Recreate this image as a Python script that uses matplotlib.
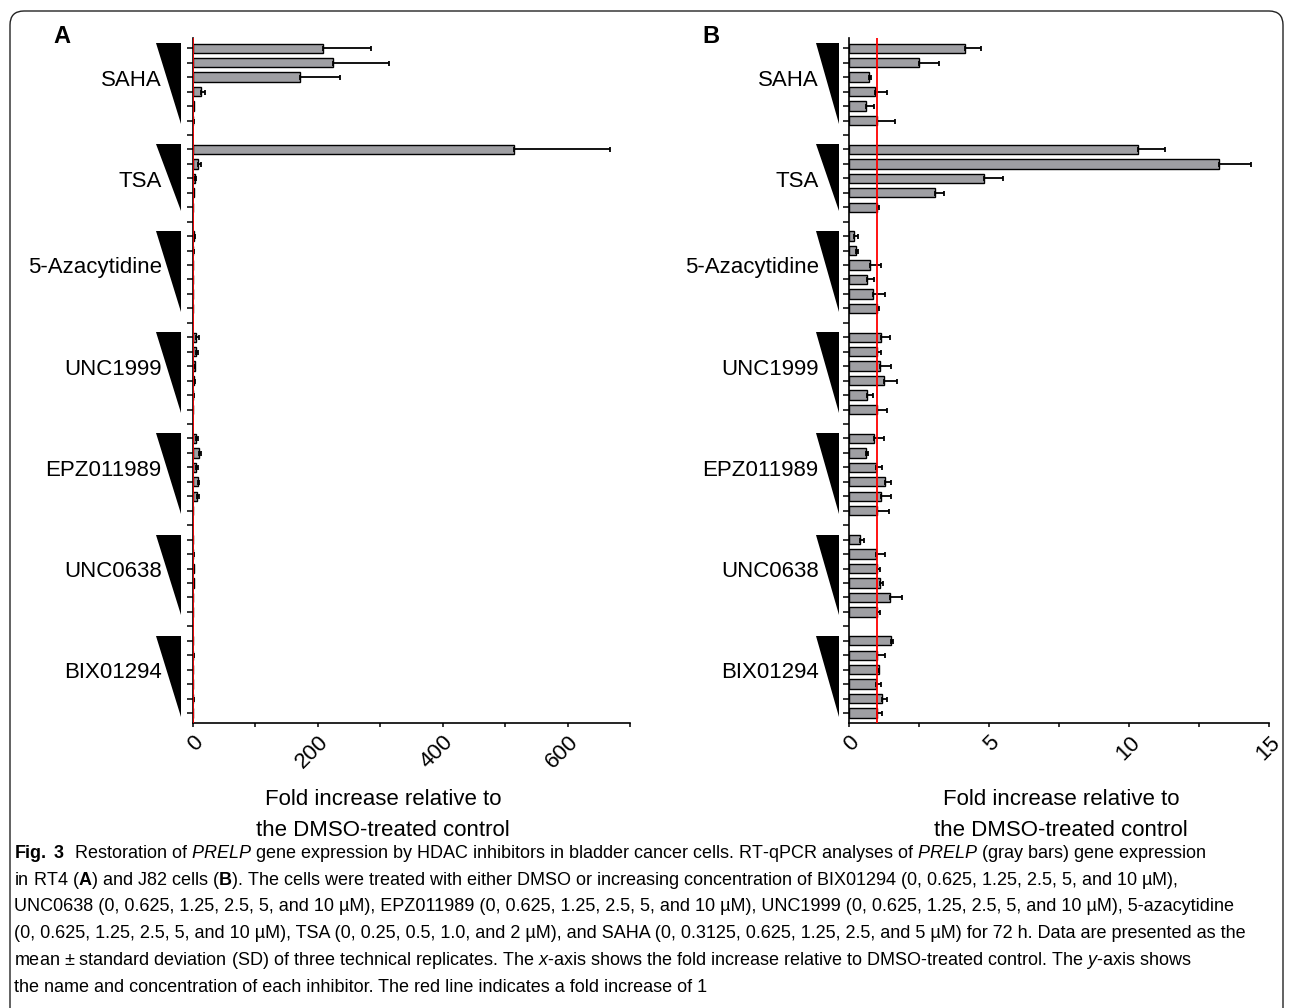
import matplotlib.pyplot as plt
import matplotlib.transforms as mtransforms
from matplotlib.patches import Polygon, FancyBboxPatch

plt.rcParams['font.family'] = ['Liberation Sans', 'DejaVu Sans']
plt.rcParams['mathtext.fontset'] = 'custom'
plt.rcParams['mathtext.rm'] = 'Liberation Sans'
plt.rcParams['mathtext.it'] = 'Liberation Sans:italic'
plt.rcParams['mathtext.bf'] = 'Liberation Sans:bold'

# inhibitors, top to bottom; bars inside a group go from highest dose to DMSO
groups = ["SAHA", "TSA", "5-Azacytidine", "UNC1999", "EPZ011989", "UNC0638", "BIX01294"]

# RT4 cells (panel A), fold increase and SD
rt4_mean = [
    [209, 225, 172, 13.8, 1.8, 1.0],
    [514, 9.0, 3.2, 1.5, 1.0],
    [2.5, 1.2, 1.0, 1.0, 1.0, 1.0],
    [5.8, 5.8, 3.0, 2.4, 1.2, 1.0],
    [5.8, 9.6, 5.8, 8.1, 6.4, 1.0],
    [1.0, 1.2, 2.0, 1.5, 1.0, 1.0],
    [1.0, 1.1, 1.0, 1.0, 1.1, 1.0],
]
rt4_sd = [
    [77, 90, 63, 5.9, 0.8, 0.3],
    [154, 3.8, 1.3, 0.5, 0.2],
    [0.8, 0.3, 0.2, 0.2, 0.2, 0.1],
    [3.8, 2.0, 1.2, 1.0, 0.3, 0.2],
    [3.2, 4.2, 3.2, 2.6, 3.6, 0.2],
    [0.2, 0.3, 0.6, 0.4, 0.2, 0.1],
    [0.1, 0.2, 0.1, 0.1, 0.2, 0.1],
]

# J82 cells (panel B)
j82_mean = [
    [4.13, 2.51, 0.73, 0.95, 0.63, 1.0],
    [10.31, 13.2, 4.82, 3.06, 1.0],
    [0.20, 0.26, 0.77, 0.65, 0.87, 1.0],
    [1.14, 1.02, 1.13, 1.27, 0.67, 1.0],
    [0.92, 0.62, 0.98, 1.31, 1.15, 1.0],
    [0.42, 0.98, 1.01, 1.13, 1.48, 1.0],
    [1.52, 1.02, 1.08, 0.96, 1.17, 1.0],
]
j82_sd = [
    [0.60, 0.72, 0.07, 0.43, 0.27, 0.65],
    [0.96, 1.13, 0.67, 0.34, 0.08],
    [0.13, 0.07, 0.38, 0.24, 0.43, 0.07],
    [0.34, 0.12, 0.38, 0.47, 0.19, 0.35],
    [0.34, 0.07, 0.20, 0.19, 0.35, 0.43],
    [0.12, 0.33, 0.11, 0.08, 0.42, 0.10],
    [0.06, 0.28, 0.0, 0.19, 0.18, 0.19],
]

xlabel = "Fold increase relative to\nthe DMSO-treated control"

caption = [
    r"$\mathbf{Fig.\ 3}$  Restoration of $\mathit{PRELP}$ gene expression by HDAC inhibitors in bladder cancer cells. RT-qPCR analyses of $\mathit{PRELP}$ (gray bars) gene expression",
    r"in RT4 ($\mathbf{A}$) and J82 cells ($\mathbf{B}$). The cells were treated with either DMSO or increasing concentration of BIX01294 (0, 0.625, 1.25, 2.5, 5, and 10 µM),",
    "UNC0638 (0, 0.625, 1.25, 2.5, 5, and 10 µM), EPZ011989 (0, 0.625, 1.25, 2.5, 5, and 10 µM), UNC1999 (0, 0.625, 1.25, 2.5, 5, and 10 µM), 5-azacytidine",
    "(0, 0.625, 1.25, 2.5, 5, and 10 µM), TSA (0, 0.25, 0.5, 1.0, and 2 µM), and SAHA (0, 0.3125, 0.625, 1.25, 2.5, and 5 µM) for 72 h. Data are presented as the",
    r"mean ± standard deviation (SD) of three technical replicates. The $\mathit{x}$-axis shows the fold increase relative to DMSO-treated control. The $\mathit{y}$-axis shows",
    "the name and concentration of each inhibitor. The red line indicates a fold increase of 1",
]

W, H = 1293, 1008


def slots(means):
    # one row per bar, one empty row between groups
    pos = []
    y = 0
    for g in means:
        pos.append(list(range(y, y + len(g))))
        y += len(g) + 1
    return pos, pos[-1][-1]


def draw_panel(ax, means, sds, xmax, major, minor, tri_right, tri_left, lab_off):
    pos, n = slots(means)
    wpx = ax.get_position().width * W
    trans = mtransforms.blended_transform_factory(ax.transAxes, ax.transData)
    for i, g in enumerate(means):
        ys = pos[i]
        ax.barh(ys, g, height=0.65, color='#9f9fa3', edgecolor='black', linewidth=1.0, zorder=2)
        ax.errorbar(g, ys, xerr=[[0] * len(g), sds[i]], fmt='none', ecolor='black',
                    elinewidth=1.3, capsize=1.8, capthick=1.3, zorder=3)
        tri = Polygon([(tri_left / wpx, ys[0] - 0.35), (tri_right / wpx, ys[0] - 0.35),
                       (tri_right / wpx, ys[-1] + 0.25)], closed=True, facecolor='black',
                      edgecolor='none', transform=trans, clip_on=False)
        ax.add_patch(tri)
        ax.text(lab_off / wpx, ys[0] + 2.2, groups[i], transform=trans, ha='right',
                va='center', fontsize=16)
    ax.axvline(1, color='red', linewidth=1.3, zorder=4)
    ax.set_xlim(0, xmax)
    ax.set_ylim(n + 0.67, -0.71)
    ax.set_yticks(range(n + 1))
    ax.set_yticklabels([])
    ax.set_xticks(major)
    ax.set_xticks(minor, minor=True)
    ax.set_xticklabels([str(v) for v in major], rotation=45, ha='right', va='top',
                       rotation_mode='anchor', fontsize=16)
    ax.tick_params(axis='y', length=4.5, width=1.1, direction='out')
    ax.tick_params(axis='x', which='both', length=3, width=1.1, direction='out')
    for s in ['top', 'right']:
        ax.spines[s].set_visible(False)
    for s in ['left', 'bottom']:
        ax.spines[s].set_linewidth(1.2)


fig = plt.figure(figsize=(W / 100, H / 100), dpi=100)

bottom = 1 - 722.7 / H
height = (722.7 - 38) / H
axA = fig.add_axes([192.7 / W, bottom, (630 - 192.7) / W, height])
axB = fig.add_axes([848.7 / W, bottom, (1269.3 - 848.7) / W, height])

draw_panel(axA, rt4_mean, rt4_sd, 700, [0, 200, 400, 600], [100, 300, 500, 700], -12, -37, -31)
draw_panel(axB, j82_mean, j82_sd, 15, [0, 5, 10, 15], [2.5, 7.5, 12.5], -10, -33, -30)

fig.text(62 / W, 1 - 36.5 / H, "A", fontsize=17, fontweight='bold', ha='center', va='center')
fig.text(711 / W, 1 - 36.5 / H, "B", fontsize=17, fontweight='bold', ha='center', va='center')

fig.text(383 / W, 1 - 815 / H, xlabel, ha='center', va='center', fontsize=16, linespacing=1.6)
fig.text(1061 / W, 1 - 815 / H, xlabel, ha='center', va='center', fontsize=16, linespacing=1.6)

baselines = [858, 884.7, 911.4, 938, 964.8, 991.5]
for line, yb in zip(caption, baselines):
    fig.text(14 / W, 1 - yb / H, line, ha='left', va='baseline', fontsize=13)

# rounded frame around the figure, open at the bottom
frame = FancyBboxPatch((0.10, -0.5), 12.73, 10.08 - 0.11 + 0.5,
                       boxstyle='round,pad=0,rounding_size=0.14',
                       transform=fig.dpi_scale_trans, facecolor='none',
                       edgecolor='#222222', linewidth=1.0)
fig.patches.append(frame)

fig.savefig('out.png', dpi=100)
